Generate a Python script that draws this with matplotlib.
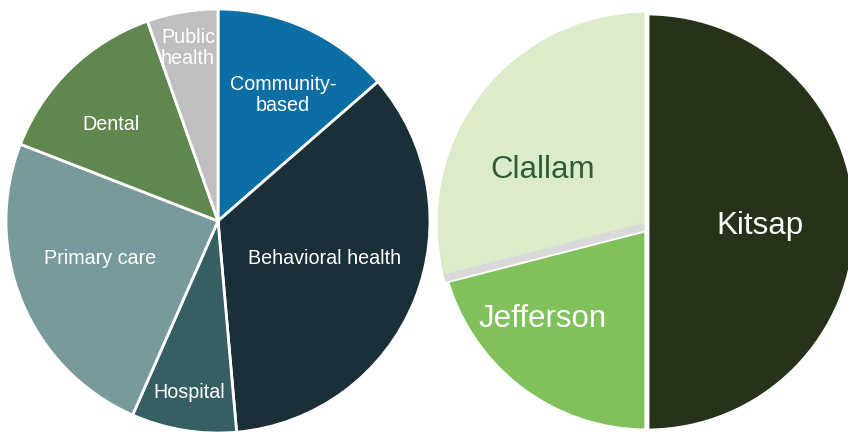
import matplotlib
matplotlib.use("Agg")
import matplotlib.pyplot as plt
from matplotlib.patches import Wedge

plt.rcParams['font.family'] = ['Liberation Sans', 'DejaVu Sans']

# left pie: share by provider type (clockwise from 12 o'clock)
types = ["Community-\nbased", "Behavioral health", "Hospital",
         "Primary care", "Dental", "Public\nhealth"]
type_share = [13.6, 35.0, 8.0, 24.3, 13.7, 5.4]
type_colors = ["#0b6fa5", "#1b2f38", "#365f64", "#799a9c", "#60874f", "#bfbfbf"]

# right pie: share by county (clockwise from 12 o'clock)
counties = ["Kitsap", "Jefferson", "Clallam"]
county_share = [50.0, 21.0, 29.0]
county_colors = ["#263219", "#80c15c", "#dcebc9"]
county_text = ["white", "white", "#2e5b3c"]

W, H = 848, 432
fig = plt.figure(figsize=(W / 100, H / 100), dpi=100)
ax = fig.add_axes([0, 0, 1, 1])

# pie geometry in pixel units
c1, r1 = (218, H - 221), 212
c2, r2 = (647, H - 222), 209

w1, _ = ax.pie(type_share, colors=type_colors, startangle=90, counterclock=False,
               center=c1, radius=r1,
               wedgeprops=dict(edgecolor="white", linewidth=2))

# label offsets from the pie centre (px, y up)
lab1 = [(65, 126), (107, -38), (-29, -172), (-118, -38), (-107, 97), (-30, 173)]
for name, (dx, dy) in zip(types, lab1):
    ax.text(c1[0] + dx, c1[1] + dy, name, color="white", fontsize=14.2,
            ha="center", va="center", linespacing=1.15)

w2, _ = ax.pie(county_share, colors=county_colors, startangle=90, counterclock=False,
               center=c2, radius=r2,
               wedgeprops=dict(edgecolor="white", linewidth=3.5))
w2[0].set_zorder(3)
w2[1].set_zorder(1)
w2[2].set_edgecolor(county_colors[2])
w2[2].set_linewidth(0.5)
w2[2].set_zorder(2)
# grey shadow under Clallam
sh = Wedge((c2[0], c2[1] - 9), r2, w2[2].theta1, w2[2].theta2,
           facecolor="#d9d9d9", edgecolor="white", linewidth=1.3, zorder=1.5)
ax.add_patch(sh)

lab2 = [(113, -4), (-104, -97), (-104, 52)]
for name, (dx, dy), tc in zip(counties, lab2, county_text):
    ax.text(c2[0] + dx, c2[1] + dy, name, color=tc, fontsize=22.5,
            ha="center", va="center", zorder=5)

ax.set_xlim(0, W)
ax.set_ylim(0, H)
ax.set_aspect("auto")
ax.axis("off")

fig.savefig("out.png", dpi=100)
